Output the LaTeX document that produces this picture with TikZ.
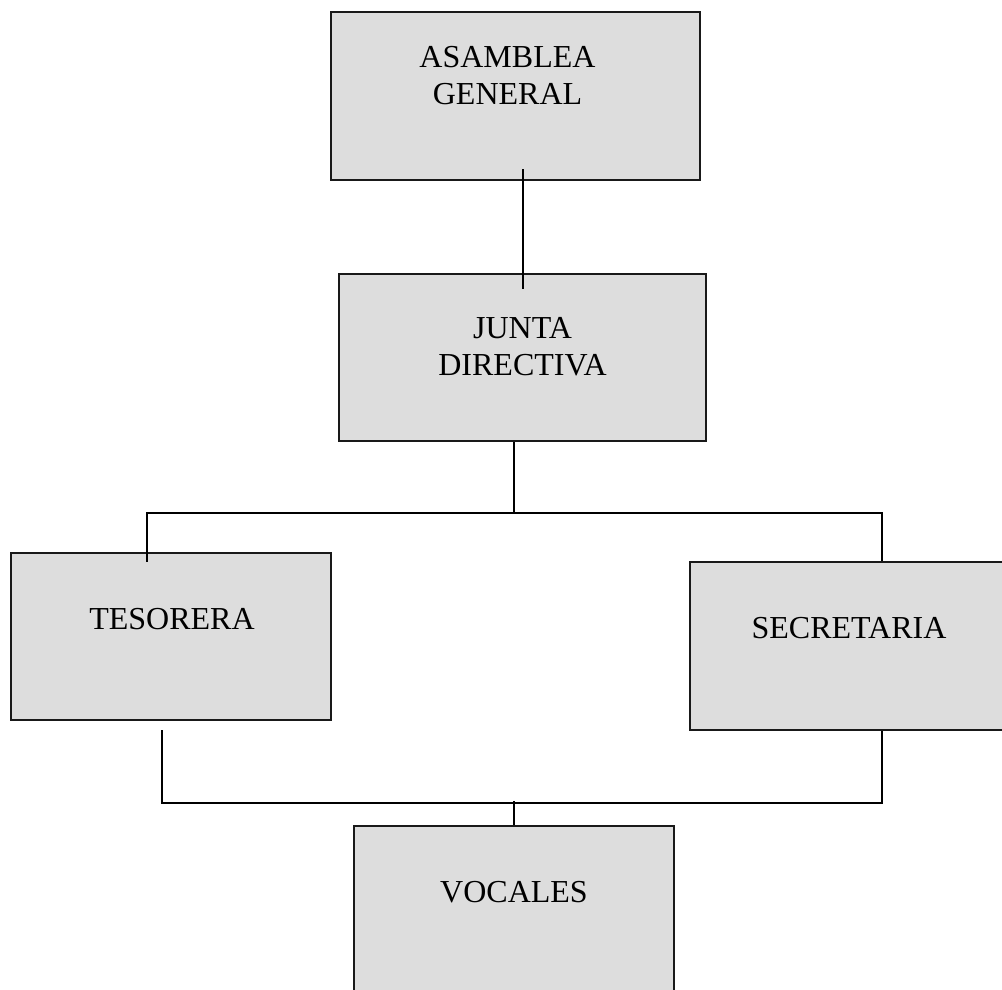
\documentclass[tikz,border=0pt]{standalone}
\usepackage{fontspec}
\setmainfont{Liberation Serif}
\definecolor{boxgray}{RGB}{221,221,221}
\usepackage{tikz}
\usetikzlibrary{positioning, calc}

\begin{document}
\begin{tikzpicture}[-, x=1pt, y=-1pt, line width=2pt, inner sep=0pt,
  box/.style={draw=black!90, fill=boxgray, rectangle, minimum width=320pt, minimum height=167pt},
  txt/.style={font=\fontsize{32}{37}\selectfont, align=center}]
  \useasboundingbox (0,0) rectangle (1002,989);
  \node[box, minimum width=369pt, minimum height=168pt] (AG) at (515.5,96)  {};
  \node[box, minimum width=367pt] (JD) at (522.5,357.5) {};
  \node[box]                      (TE) at (171,636.5)   {};
  \node[box, minimum width=315pt, minimum height=168pt] (SE) at (847.5,646) {};
  \node[box]                      (VO) at (514,909.5)   {};
  \node[txt] (AG_t) [below=34pt of AG.north, xshift=-8pt]   {ASAMBLEA\\GENERAL};
  \node[txt] (JD_t) [below=43pt of JD.north]                {JUNTA\\DIRECTIVA};
  \node[txt] (TE_t) [below=55pt of TE.north, xshift=1pt]    {TESORERA};
  \node[txt] (SE_t) [below=55pt of SE.north, xshift=1.5pt]  {SECRETARIA};
  \node[txt] (VO_t) [below=55.5pt of VO.north]              {VOCALES};
  \draw ($(AG.south -| JD.north)+(0.5,-12)$) -- ($(JD.north)+(0.5,16)$);
  \draw (JD.south -| VO.north) |- ($(TE.north)+(-24,-39)$) -- ($(TE.north)+(-24,10)$);
  \draw ($(TE.north)+(-24,-39)$) -| ($(SE.north)+(34.5,0)$);
  \draw ($(TE.south)+(-9,9)$) |- ($(SE.south)+(34.5,72)$) -- ($(SE.south)+(34.5,0)$);
  \draw (VO.north) -- ++(0,-24);
\end{tikzpicture}
\end{document}
